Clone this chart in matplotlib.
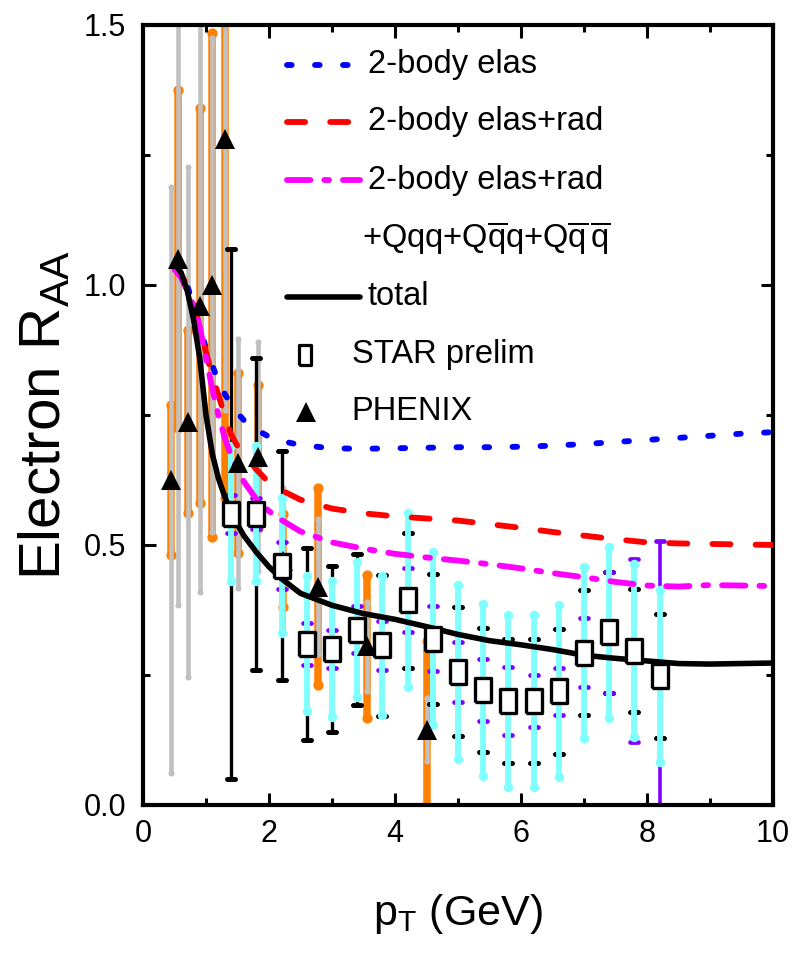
import matplotlib
matplotlib.use("Agg")
import matplotlib.pyplot as plt
from matplotlib.markers import MarkerStyle

# ---------------- fonts ----------------
FONT = "Liberation Sans"
plt.rcParams["font.family"] = [FONT, "DejaVu Sans"]
plt.rcParams["mathtext.fontset"] = "custom"
plt.rcParams["mathtext.rm"] = FONT
plt.rcParams["mathtext.it"] = FONT
plt.rcParams["mathtext.bf"] = FONT

# ---------------- data ----------------
# theory curves
curve_x = [0.5, 0.6, 0.7, 0.8, 0.9, 1.0, 1.1, 1.2, 1.3, 1.4, 1.5, 1.6, 1.8, 2.0, 2.2, 2.5,
           3.0, 3.5, 4.0, 4.5, 5.0, 5.5, 6.0, 6.5, 7.0, 7.5, 8.0, 8.5, 9.0, 9.5, 10.0]
elas = [1.04, 1.03, 1.0, 0.96, 0.92, 0.878, 0.845, 0.815, 0.79, 0.77, 0.754, 0.74, 0.722, 0.708,
        0.700, 0.692, 0.686, 0.685, 0.686, 0.687, 0.688, 0.688, 0.689, 0.691, 0.694, 0.698,
        0.702, 0.706, 0.710, 0.714, 0.717]
elas_rad = [1.035, 1.022, 0.998, 0.965, 0.92, 0.87, 0.825, 0.787, 0.748, 0.712, 0.69, 0.675,
            0.645, 0.62, 0.605, 0.587, 0.570, 0.561, 0.555, 0.551, 0.547, 0.540, 0.533, 0.525,
            0.518, 0.511, 0.505, 0.503, 0.502, 0.501, 0.500]
elas_rad_3body = [1.03, 1.015, 0.99, 0.96, 0.92, 0.86, 0.8, 0.748, 0.705, 0.672, 0.645, 0.622,
                  0.588, 0.565, 0.548, 0.526, 0.505, 0.493, 0.483, 0.476, 0.470, 0.463, 0.455,
                  0.446, 0.438, 0.429, 0.422, 0.420, 0.423, 0.422, 0.421]
total = [1.04, 1.025, 0.99, 0.935, 0.86, 0.75, 0.675, 0.627, 0.592, 0.563, 0.539, 0.518, 0.486,
         0.458, 0.435, 0.407, 0.384, 0.368, 0.357, 0.343, 0.328, 0.316, 0.308, 0.299, 0.288,
         0.282, 0.277, 0.272, 0.271, 0.272, 0.273]

# STAR preliminary
star_x = [1.4, 1.8, 2.2, 2.6, 3.0, 3.4, 3.8, 4.2, 4.6, 5.0, 5.4, 5.8, 6.2, 6.6, 7.0, 7.4, 7.8, 8.2]
star_y = [0.56, 0.56, 0.46, 0.31, 0.30, 0.337, 0.307, 0.394, 0.32, 0.256, 0.221, 0.20, 0.20,
          0.219, 0.293, 0.332, 0.297, 0.248]
star_stat = [0.13, 0.13, 0.13, 0.13, 0.13, 0.13, 0.133, 0.167, 0.167, 0.167, 0.165, 0.165,
             0.165, 0.165, 0.165, 0.165, 0.166, 0.165]
star_sys = [0.51, 0.30, 0.22, 0.185, 0.16, 0.145, 0.136, 0.13, 0.125, 0.124, 0.12, 0.12, 0.12,
            0.12, 0.12, 0.117, 0.118, 0.12]
star_norm = [0.037, 0.03, 0.045, 0.04, 0.037, 0.045, 0.047, 0.062, 0.062, 0.057, 0.06, 0.065,
             0.05, 0.045, 0.066, 0.116, 0.176, 0.26]

# PHENIX
phx_x = [0.45, 0.55, 0.71, 0.9, 1.09, 1.3, 1.51, 1.83, 2.23, 2.77, 3.55, 4.5]
phx_y = [0.625, 1.05, 0.737, 0.96, 1.0, 1.28, 0.657, 0.67, 0.47, 0.42, 0.305, 0.145]
phx_stat = [0.564, 0.665, 0.49, 0.55, 0.475, 0.52, 0.24, 0.22, 0.14, 0.13, 0.085, 0.06]
phx_sys = [0.145, 0.325, 0.176, 0.38, 0.485, 0.69, 0.173, 0.138, 0.09, 0.19, 0.137, 0.17]

# tick labels
xticks = [0, 2, 4, 6, 8, 10]
yticks = [0.0, 0.5, 1.0, 1.5]
ytick_labels = ["0.0", "0.5", "1.0", "1.5"]

# colours
C_BLUE = "#0000FF"
C_RED = "#FF0000"
C_MAG = "#FF00FF"
C_CYAN = "#80FFFF"
C_ORANGE = "#FF8000"
C_GRAY = "#C0C0C0"
C_PURPLE = "#8000FF"

# ---------------- figure ----------------
fig = plt.figure(figsize=(8.0, 9.69), dpi=100)
ax = fig.add_axes([0.17875, 0.16925, 0.7875, 0.805])
ax.set_xlim(0, 10)
ax.set_ylim(0, 1.5)


def bars(x, y, err, color, lw, zorder, cap=None, capsize=0, capthick=0):
    eb = ax.errorbar(x, y, yerr=err, fmt="none", ecolor=color, elinewidth=lw,
                     capsize=capsize if cap else 0, capthick=capthick, zorder=zorder)
    for lc in eb[2]:
        lc.set_capstyle("round")
    if cap == "dot":
        for cl in eb[1]:
            cl.set_marker(MarkerStyle("o"))
            cl.set_markersize(capsize)
            cl.set_markeredgewidth(0)
            cl.set_markerfacecolor(color)
    elif cap == "bar":
        for cl in eb[1]:
            cl.set_marker(MarkerStyle("_", capstyle="round"))
            cl.set_markersize(capsize)
            cl.set_markeredgewidth(capthick)
    return eb


# PHENIX: systematic (orange) under statistical (gray)
bars(phx_x, phx_y, phx_sys, C_ORANGE, 5.4, 1.0, cap="dot", capsize=7.4)
bars(phx_x, phx_y, phx_stat, C_GRAY, 3.3, 1.1, cap="dot", capsize=4.4)

# STAR: black, purple, cyan
bars(star_x, star_y, star_sys, "black", 2.4, 1.2, cap="bar", capsize=6.0, capthick=3.6)
bars(star_x, star_y, star_norm, C_PURPLE, 2.6, 1.3, cap="bar", capsize=5.6, capthick=3.4)
bars(star_x, star_y, star_stat, C_CYAN, 4.2, 1.4, cap="dot", capsize=6.8)

# theory curves
LW = 4.2
l1, = ax.plot(curve_x, elas, color=C_BLUE, lw=LW, zorder=3, dash_capstyle="round")
l1.set_dashes((0.8, 4.0))
l2, = ax.plot(curve_x, elas_rad, color=C_RED, lw=LW, zorder=3, dash_capstyle="round")
l2.set_dashes((3.1, 4.3))
l3, = ax.plot(curve_x, elas_rad_3body, color=C_MAG, lw=LW, zorder=3, dash_capstyle="round")
l3.set_dashes((4.0, 2.4, 0.8, 2.4))
l4, = ax.plot(curve_x, total, color="black", lw=4.0, zorder=3.1, solid_capstyle="round",
              solid_joinstyle="round")

# markers
RECT = [(-0.32, -0.5), (0.32, -0.5), (0.32, 0.5), (-0.32, 0.5), (-0.32, -0.5)]
ax.plot(phx_x, phx_y, linestyle="none", marker="^", ms=14.5, mfc="black", mec="black",
        mew=0, zorder=4)
ax.plot(star_x, star_y, linestyle="none", marker=RECT, ms=17, mfc="white", mec="black",
        mew=2.4, zorder=4.1)

# ---------------- axes styling ----------------
for s in ax.spines.values():
    s.set_linewidth(3.0)
ax.set_xticks(xticks)
ax.set_xticks([1, 3, 5, 7, 9], minor=True)
ax.set_yticks(yticks)
ax.set_yticks([0.25, 0.75, 1.25], minor=True)
ax.set_yticklabels(ytick_labels)
ax.tick_params(which="both", direction="in", top=True, right=True, width=2.2)
ax.tick_params(which="major", length=9, labelsize=22)
ax.tick_params(which="minor", length=5)
ax.tick_params(axis="x", which="major", pad=10)
ax.tick_params(axis="y", which="major", pad=12)

ax.set_xlabel(r"p$_\mathrm{T}$ (GeV)", fontsize=31)
ax.xaxis.set_label_coords(0.5, -0.112)
ax.set_ylabel(r"Electron R$_{\mathrm{AA}}$", fontsize=42)
ax.yaxis.set_label_coords(-0.112, 0.5)

# ---------------- legend (manual) ----------------
LFS = 23.5
hx0, hx1, tx = 0.228, 0.344, 0.357
rows = [0.9487, 0.876, 0.801, 0.726, 0.6517, 0.577, 0.504]
legend_lines = [(C_BLUE, (0.8, 4.0), "2-body elas"),
                (C_RED, (3.1, 4.3), "2-body elas+rad"),
                (C_MAG, (4.0, 2.4, 0.8, 2.4), "2-body elas+rad")]
for (c, d, lab), yy in zip(legend_lines, rows[:3]):
    ln, = ax.plot([hx0, hx1], [yy, yy], color=c, lw=LW, transform=ax.transAxes,
                  clip_on=False, dash_capstyle="round", zorder=5)
    ln.set_dashes(d)
    ax.text(tx, yy, lab, transform=ax.transAxes, fontsize=LFS, va="center", ha="left")
ax.text(0.347, rows[3],
        r"+Qqq+Q$\overline{\mathrm{q}}$q+Q$\overline{\mathrm{q}}\,\overline{\mathrm{q}}$",
        transform=ax.transAxes, fontsize=LFS, va="center", ha="left")
ax.plot([hx0, hx1], [rows[4], rows[4]], color="black", lw=4.0, transform=ax.transAxes,
        clip_on=False, solid_capstyle="round", zorder=5)
ax.text(tx, rows[4], "total", transform=ax.transAxes, fontsize=LFS, va="center", ha="left")
ax.plot([0.257], [rows[5]], marker=RECT, ms=14, mfc="white", mec="black", mew=2.3,
        transform=ax.transAxes, linestyle="none", zorder=5)
ax.text(0.331, rows[5], "STAR prelim", transform=ax.transAxes, fontsize=LFS, va="center",
        ha="left")
ax.plot([0.259], [rows[6]], marker="^", ms=14.5, color="black", mew=0,
        transform=ax.transAxes, linestyle="none", zorder=5)
ax.text(0.331, rows[6], "PHENIX", transform=ax.transAxes, fontsize=LFS, va="center",
        ha="left")

fig.savefig("out.png", dpi=100)
